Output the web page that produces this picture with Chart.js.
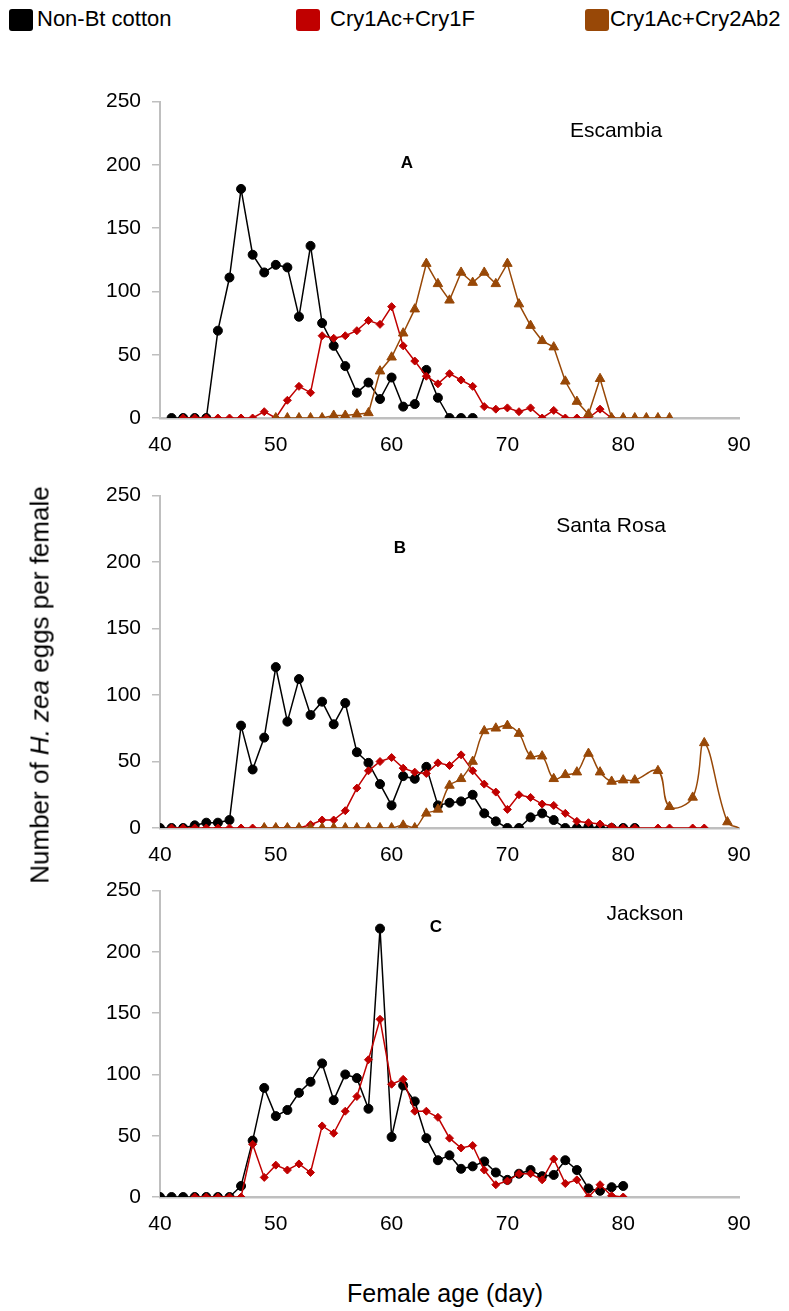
<!DOCTYPE html>
<html>
<head>
<meta charset="utf-8">
<script src="https://cdn.jsdelivr.net/npm/chart.js@4.4.1/dist/chart.umd.min.js"></script>
<style>
  body { margin: 0; background: #fff; }
  #page { position: relative; width: 789px; height: 1311px; overflow: hidden;
          font-family: 'Liberation Sans Narrow', 'Liberation Sans', Arial, sans-serif; color: #000; }
  canvas { position: absolute; left: 0; }
  .key { position: absolute; top: 9px; width: 24px; height: 22px; border-radius: 3px; }
  .keytxt { position: absolute; top: 5px; font-size: 22px; line-height: 28px; white-space: nowrap; }
  .lbl { position: absolute; transform: translate(-50%, -50%); white-space: nowrap; }
  .site { font-size: 21px; }
  .tag { font-size: 17px; font-weight: bold; font-family: 'Liberation Sans', Arial, sans-serif; }
  #ytitle { position: absolute; left: 40px; top: 685px; transform: translate(-50%, -50%) rotate(-90deg);
            white-space: nowrap; font-size: 26px; font-family: 'Liberation Sans', Arial, sans-serif; }
  #xtitle { position: absolute; left: 445px; top: 1293px; transform: translate(-50%, -50%);
            white-space: nowrap; font-size: 25px; font-family: 'Liberation Sans', Arial, sans-serif; }
</style>
</head>
<body>
<div id="page">
  <div class="key" style="left:9px;background:#000"></div>
  <div class="keytxt" style="left:37px">Non-Bt cotton</div>
  <div class="key" style="left:296px;background:#c00000"></div>
  <div class="keytxt" style="left:330px">Cry1Ac+Cry1F</div>
  <div class="key" style="left:585px;background:#984807"></div>
  <div class="keytxt" style="left:610px">Cry1Ac+Cry2Ab2</div>

  <canvas id="chartA"></canvas>
  <canvas id="chartB"></canvas>
  <canvas id="chartC"></canvas>

  <div class="lbl site" style="left:616px;top:130px">Escambia</div>
  <div class="lbl tag" style="left:407px;top:163px">A</div>
  <div class="lbl site" style="left:611px;top:525px">Santa Rosa</div>
  <div class="lbl tag" style="left:400px;top:548px">B</div>
  <div class="lbl site" style="left:645px;top:913px">Jackson</div>
  <div class="lbl tag" style="left:436px;top:927px">C</div>

  <div id="ytitle">Number of <i>H. zea</i> eggs per female</div>
  <div id="xtitle">Female age (day)</div>
</div>
<script>
const span = (a, b) => Array.from({ length: b - a + 1 }, (_, i) => a + i)

// A - Escambia
const daysA_non = span(41, 67)
const eggsA_non = [0, 0, 0, 0, 69, 111, 181, 129, 115, 121, 119, 80, 136, 75, 57, 41, 20, 28, 15, 32,
  9, 11, 38, 16, 0, 0, 0]
const daysA_1f = span(42, 79)
const eggsA_1f = [0, 0, 0, 0, 0, 0, 0, 5, 0, 14, 25, 20, 65, 63, 65, 69, 77, 74, 88, 57,
  45, 33, 27, 35, 30, 25, 9, 7, 8, 5, 8, 0, 6, 0, 0, 0, 7, 0]
const daysA_2ab2 = span(50, 84)
const eggsA_2ab2 = [0, 0, 0, 0, 0, 2, 2, 3, 4, 37, 48, 67, 86, 122, 106, 93, 115, 107, 115, 106,
  122, 90, 73, 61, 56, 29, 13, 3, 31, 0, 0, 0, 0, 0, 0]

// B - Santa Rosa
const daysB_non = span(40, 81)
const eggsB_non = [0, 0, 0, 2, 4, 4, 6, 77, 44, 68, 121, 80, 112, 85, 95, 78, 94, 57, 49, 33,
  17, 39, 37, 46, 17, 19, 20, 25, 11, 5, 0, 0, 8, 11, 6, 0, 0, 1, 0, 0, 0, 0]
const daysB_1f = span(41, 81).concat([83, 84, 86, 87])
const eggsB_1f = [0, 0, 0, 0, 0, 0, 0, 0, 0, 0, 0, 0, 2.5, 6, 6, 13, 30, 43, 50, 53,
  45, 42, 41, 49, 47, 55, 43, 33, 27, 14, 25, 23, 18, 17, 11, 5, 4, 3, 1, 0, 0, 0, 0, 0, 0]
const daysB_2ab2 = span(49, 81).concat([83, 84, 86, 87, 89, 90])
const eggsB_2ab2 = [0, 0, 0, 0, 0, 0, 0, 0, 0, 0, 0, 0, 2, 0, 11, 14, 32, 37, 50, 73,
  75, 77, 71, 54, 54, 37, 40, 42, 56, 42, 35, 36, 36, 43, 16, 23, 64, 4.5, 0]

// C - Jackson
const daysC_non = span(40, 80)
const eggsC_non = [0, 0, 0, 0, 0, 0, 0, 9, 46, 89, 66, 71, 85, 94, 109, 79, 100, 97, 72, 219,
  49, 91, 78, 48, 30, 34, 23, 25, 29, 20, 14, 19, 22, 17, 18, 30, 22, 7, 5, 8, 9]
const daysC_1f = span(43, 80)
const eggsC_1f = [0, 0, 0, 0, 0, 43, 16, 26, 22, 27, 20, 58, 52, 70, 82, 112, 145, 92, 96, 70,
  70, 65, 48, 40, 42, 22, 10, 13, 19, 19, 14, 31, 11, 14, 0, 10, 1, 0]

const xTicks = [40, 50, 60, 70, 80, 90]
const yTicks = [0, 50, 100, 150, 200, 250]

const tickFont = { family: "'Liberation Sans Narrow', 'Liberation Sans', Arial", size: 21 }

const toPoints = (days, eggs) => days.map((d, i) => ({ x: d, y: eggs[i] }))

const series = (label, days, eggs, color, style, radius, order, tension) => ({
  label: label,
  data: toPoints(days, eggs),
  borderColor: color,
  backgroundColor: color,
  borderWidth: 1.5,
  pointStyle: style,
  pointRadius: (ctx) => (ctx.raw && ctx.raw.x >= 90 ? 0 : radius),
  pointBorderWidth: 1,
  pointBorderColor: color,
  pointBackgroundColor: color,
  tension: tension || 0,
  order: order,
})

// chart.js adds the half height of the top tick label to the layout padding
const topGap = 22

const makePanel = (canvas, top, plotHeight, sets) => {
  const h = topGap + plotHeight + 40
  canvas.width = 789
  canvas.height = h
  canvas.style.top = (top - topGap) + 'px'
  canvas.style.width = '789px'
  canvas.style.height = h + 'px'
  new Chart(canvas, {
    type: 'line',
    data: { datasets: sets },
    options: {
      responsive: false,
      animation: false,
      layout: { padding: { top: 10, right: 50, left: 0, bottom: 0 } },
      plugins: { legend: { display: false }, tooltip: { enabled: false } },
      scales: {
        x: {
          type: 'linear',
          min: 40,
          max: 90,
          afterBuildTicks: (scale) => { scale.ticks = xTicks.map((v) => ({ value: v })) },
          afterFit: (scale) => { scale.height = 40 },
          grid: { drawOnChartArea: false, drawTicks: false, color: '#bfbfbf' },
          border: { color: '#bfbfbf', width: 2.5 },
          ticks: { color: '#000', font: tickFont, padding: 15, maxRotation: 0 },
        },
        y: {
          min: 0,
          max: 250,
          afterBuildTicks: (scale) => { scale.ticks = yTicks.map((v) => ({ value: v })) },
          afterFit: (scale) => { scale.width = 160 },
          grid: { drawOnChartArea: false, drawTicks: true, tickLength: 8, color: '#bfbfbf', lineWidth: 1.5 },
          border: { color: '#bfbfbf', width: 2 },
          ticks: { color: '#000', font: tickFont, padding: 11 },
        },
      },
    },
  })
}

const black = '#000000', red = '#c00000', brown = '#984807'

makePanel(document.querySelector('#chartA'), 100, 318, [
  series('Non-Bt cotton', daysA_non, eggsA_non, black, 'circle', 4.5, 3),
  series('Cry1Ac+Cry1F', daysA_1f, eggsA_1f, red, 'rectRot', 4, 2),
  series('Cry1Ac+Cry2Ab2', daysA_2ab2, eggsA_2ab2, brown, 'triangle', 5.5, 1),
])
makePanel(document.querySelector('#chartB'), 494, 334, [
  series('Non-Bt cotton', daysB_non, eggsB_non, black, 'circle', 4.5, 3),
  series('Cry1Ac+Cry1F', daysB_1f, eggsB_1f, red, 'rectRot', 4, 2),
  series('Cry1Ac+Cry2Ab2', daysB_2ab2, eggsB_2ab2, brown, 'triangle', 5.5, 1, 0.4),
])
makePanel(document.querySelector('#chartC'), 889, 308, [
  series('Non-Bt cotton', daysC_non, eggsC_non, black, 'circle', 4.5, 3),
  series('Cry1Ac+Cry1F', daysC_1f, eggsC_1f, red, 'rectRot', 4, 2),
])
</script>
</body>
</html>
